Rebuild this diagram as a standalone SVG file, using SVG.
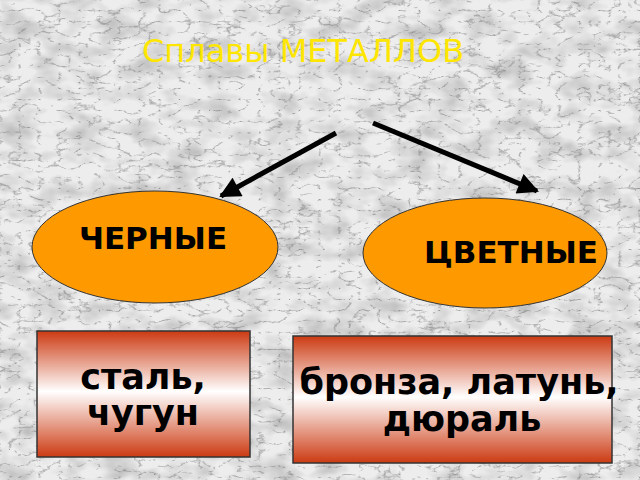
<svg xmlns="http://www.w3.org/2000/svg" width="640" height="480" viewBox="0 0 640 480">
<defs>
<filter id="marble" x="0" y="0" width="100%" height="100%" color-interpolation-filters="sRGB">
<feFlood flood-color="#ededed" result="base"/>
<feTurbulence type="fractalNoise" baseFrequency="0.03 0.05" numOctaves="3" seed="3" result="n"/>
<feColorMatrix in="n" type="matrix" values="0 0 0 0 0.6  0 0 0 0 0.6  0 0 0 0 0.6  1.2 0 0 0 -0.5" result="mottle"/>
<feTurbulence type="turbulence" baseFrequency="0.05 0.09" numOctaves="4" seed="11" result="t"/>
<feColorMatrix in="t" type="matrix" values="0 0 0 0 0.42  0 0 0 0 0.42  0 0 0 0 0.42  -3 0 0 0 0.6" result="veins"/>
<feMerge><feMergeNode in="base"/><feMergeNode in="mottle"/><feMergeNode in="veins"/></feMerge>
</filter>
<linearGradient id="box" x1="0" y1="0" x2="0" y2="1">
<stop offset="0" stop-color="#cc3a12"/>
<stop offset="0.48" stop-color="#ffffff"/>
<stop offset="1" stop-color="#cc3a12"/>
</linearGradient>
<marker id="ah" viewBox="0 0 10 10" refX="9" refY="5" markerWidth="4.5" markerHeight="4.2" markerUnits="strokeWidth" orient="auto">
<path d="M0,0 L10,5 L0,10 z" fill="#000"/>
</marker>
<style>
.t{font-family:"DejaVu Sans","Noto Sans",sans-serif;}
.b{font-family:"DejaVu Sans","Noto Sans",sans-serif;font-weight:bold;font-size:31px;fill:#000;}
.bx{font-size:35px;}
.ell{fill:#ff9900;stroke:#333;stroke-width:1;}
.rect{fill:url(#box);stroke:#333;stroke-width:1.5;}
.arr{stroke:#000;stroke-width:5;fill:none;marker-end:url(#ah);}
</style>
</defs>
<rect x="0" y="0" width="640" height="480" fill="#d4d4d4" filter="url(#marble)"/>
<g id="title">
<text class="t" x="142" y="62" font-size="32" fill="#ffe600">Сплавы МЕТАЛЛОВ</text>
</g>
<g id="connectors">
<line class="arr" x1="336" y1="133" x2="221" y2="196"/>
<line class="arr" x1="373" y1="123" x2="537" y2="191"/>
</g>
<g id="black">
<ellipse class="ell" cx="155" cy="247" rx="123" ry="56"/>
<text class="b" x="153" y="249" text-anchor="middle">ЧЕРНЫЕ</text>
</g>
<g id="color">
<ellipse class="ell" cx="485" cy="253" rx="122" ry="55"/>
<text class="b" x="511" y="263" text-anchor="middle">ЦВЕТНЫЕ</text>
</g>
<g id="box1">
<rect class="rect" x="37" y="331" width="213" height="126"/>
<text class="b bx" x="143" y="389" text-anchor="middle">сталь,</text>
<text class="b bx" x="143" y="425" text-anchor="middle">чугун</text>
</g>
<g id="box2">
<rect class="rect" x="293" y="336" width="319" height="127"/>
<text class="b bx" x="459" y="394" text-anchor="middle">бронза, латунь,</text>
<text class="b bx" x="462" y="431" text-anchor="middle">дюраль</text>
</g>
</svg>
